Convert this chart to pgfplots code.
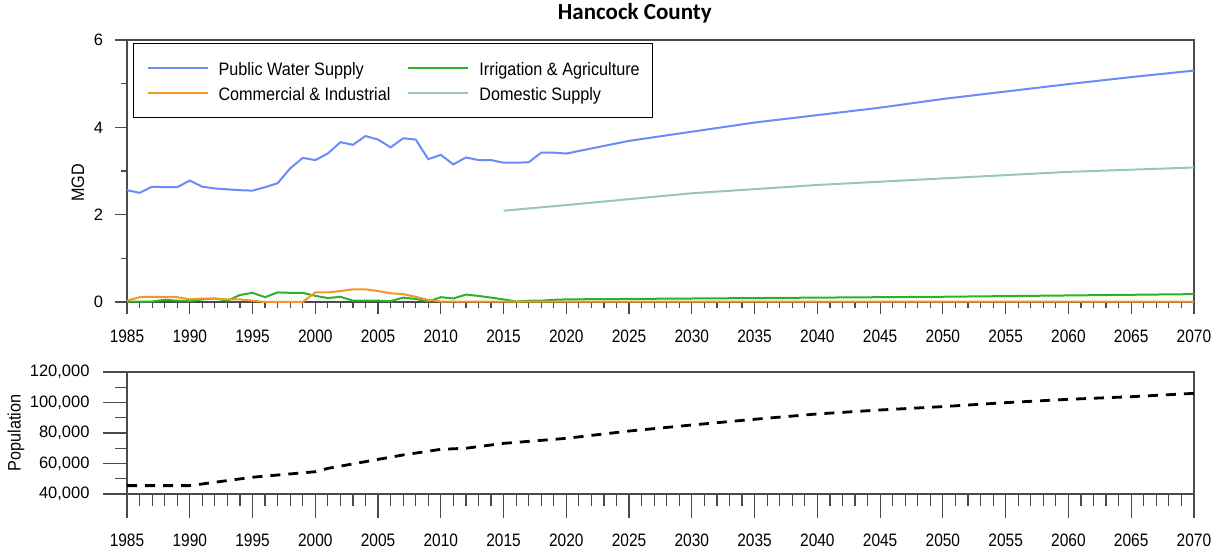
\documentclass[border=0pt]{standalone}
\usepackage{pgfplots}
\pgfplotsset{compat=1.18}
\usepackage{fontspec}
\setmainfont{Liberation Sans}
\newfontfamily\titlefont{Carlito}
\newfontfamily\xtf[FakeStretch=0.86]{Liberation Sans}
\newfontfamily\lgf[FakeStretch=0.9]{Liberation Sans}
\definecolor{pws}{RGB}{105,140,250}
\definecolor{ci}{RGB}{245,150,40}
\definecolor{ia}{RGB}{40,180,40}
\definecolor{ds}{RGB}{150,200,180}
\definecolor{axc}{RGB}{75,75,75}

\begin{document}
\begin{tikzpicture}[x=1pt,y=1pt]
\useasboundingbox (0,0) rectangle (1212,554);
\pgfplotsset{
  common/.style={
    scale only axis,
    width=1067pt,
    xmin=1985, xmax=2070,
    xtick={1985,1990,...,2070},
    minor x tick num=4,
    tick align=outside,
    xtick pos=bottom, ytick pos=left,
    clip=false,
    axis line style={axc, line width=1.3pt},
    every tick/.style={axc, line width=1.2pt},
    xticklabel style={/pgf/number format/1000 sep=, /pgf/number format/fixed,
      font=\xtf\fontsize{18}{20}\selectfont, yshift=-12pt},
    yticklabel style={font=\fontsize{16.5}{19}\selectfont},
    /pgf/number format/assume math mode=true,
    label style={font=\lgf\fontsize{18}{20}\selectfont},
  }
}
\begin{axis}[common,
  at={(127pt,252pt)}, anchor=south west,
  height=262pt,
  ymin=0, ymax=6,
  ytick={0,2,4,6}, minor y tick num=1,
  major tick length=12.5pt, minor tick length=6pt,
  yticklabel style={xshift=-8pt},
  ylabel={MGD},
  ylabel style={at={(axis description cs:-0.0459,0.454)}, anchor=center},
  title={\titlefont\bfseries Hancock County},
  title style={at={(axis description cs:0.476,1.057)}, anchor=base, font=\fontsize{23}{26}\selectfont},
  legend columns=2,
  legend style={at={(axis description cs:0.0056,0.989)}, anchor=north west,
    draw=black, line width=1.1pt, font=\lgf\fontsize{18}{20}\selectfont,
    inner xsep=13pt, inner ysep=12.5pt,
    nodes={inner xsep=0pt, inner ysep=0pt, text height=20pt, text depth=4pt},
    row sep=1pt,
    /tikz/every odd column/.append style={column sep=10pt},
    /tikz/every even column/.append style={column sep=17pt}},
  legend cell align=left,
  legend image code/.code={\draw[#1] (0pt,0pt) -- (60pt,0pt);},
]
\addplot[pws, line width=2pt] coordinates {
(1985,2.56)(1986,2.50)(1987,2.64)(1988,2.63)(1989,2.63)(1990,2.78)(1991,2.64)(1992,2.60)
(1993,2.58)(1994,2.56)(1995,2.55)(1996,2.63)(1997,2.72)(1998,3.06)(1999,3.30)(2000,3.25)
(2001,3.40)(2002,3.66)(2003,3.60)(2004,3.80)(2005,3.72)(2006,3.54)(2007,3.75)(2008,3.72)
(2009,3.27)(2010,3.37)(2011,3.15)(2012,3.31)(2013,3.25)(2014,3.25)(2015,3.19)(2016,3.19)
(2017,3.20)(2018,3.42)(2019,3.42)(2020,3.40)(2025,3.69)(2030,3.90)(2035,4.11)(2040,4.28)
(2045,4.45)(2050,4.65)(2055,4.82)(2060,4.99)(2065,5.15)(2070,5.30)};
\addlegendentry{Public Water Supply}
\addplot[ia, line width=2pt] coordinates {
(1985,0.01)(1986,0.01)(1987,0.01)(1988,0.05)(1989,0.03)(1990,0.02)(1991,0.06)(1992,0.08)
(1993,0.03)(1994,0.16)(1995,0.21)(1996,0.11)(1997,0.22)(1998,0.21)(1999,0.21)(2000,0.14)
(2001,0.09)(2002,0.12)(2003,0.03)(2004,0.03)(2005,0.03)(2006,0.02)(2007,0.10)(2008,0.07)
(2009,0.01)(2010,0.11)(2011,0.08)(2012,0.17)(2013,0.14)(2014,0.10)(2015,0.06)(2016,0.01)
(2017,0.03)(2018,0.03)(2019,0.05)(2020,0.06)(2030,0.08)(2040,0.10)(2050,0.12)(2060,0.15)(2070,0.18)};
\addlegendentry{Irrigation \& Agriculture}
\addplot[ci, line width=2pt] coordinates {
(1985,0.03)(1986,0.11)(1987,0.12)(1988,0.11)(1989,0.11)(1990,0.06)(1991,0.08)(1992,0.08)
(1993,0.06)(1994,0.06)(1995,0.03)(1996,0.00)(1997,0.00)(1998,0.00)(1999,0.00)(2000,0.22)
(2001,0.22)(2002,0.25)(2003,0.29)(2004,0.29)(2005,0.25)(2006,0.20)(2007,0.18)(2008,0.12)
(2009,0.05)(2010,0.01)(2020,0.01)(2030,0.01)(2040,0.01)(2050,0.01)(2060,0.01)(2070,0.01)};
\addlegendentry{Commercial \& Industrial}
\addplot[ds, line width=2pt] coordinates {
(2015,2.09)(2020,2.22)(2030,2.49)(2040,2.68)(2050,2.83)(2060,2.98)(2070,3.08)};
\addlegendentry{Domestic Supply}
\end{axis}

\begin{axis}[common,
  at={(127pt,60pt)}, anchor=south west,
  height=122pt,
  ymin=40000, ymax=120000,
  ytick={40000,60000,80000,100000,120000}, minor y tick num=1,
  scaled y ticks=false,
  yticklabels={{40,000},{60,000},{80,000},{100,000},{120,000}},
  yticklabel style={xshift=-10pt},
  major tick length=24pt, minor tick length=12pt,
  ylabel={Population},
  ylabel style={at={(axis description cs:-0.104,0.5)}, anchor=center},
]
\addplot[black, line width=2.8pt, dash pattern=on 10pt off 8pt] coordinates {
(1985,45500)(1990,45500)(1991,46600)(1995,51000)(2000,54600)(2001,56800)(2005,62700)
(2007,65600)(2010,69300)(2012,70000)(2015,73200)(2020,76500)(2025,81300)(2030,85250)
(2035,89000)(2040,92500)(2045,95100)(2050,97300)(2055,99900)(2060,102100)(2065,103800)(2070,106000)};
\end{axis}
\end{tikzpicture}
\end{document}
